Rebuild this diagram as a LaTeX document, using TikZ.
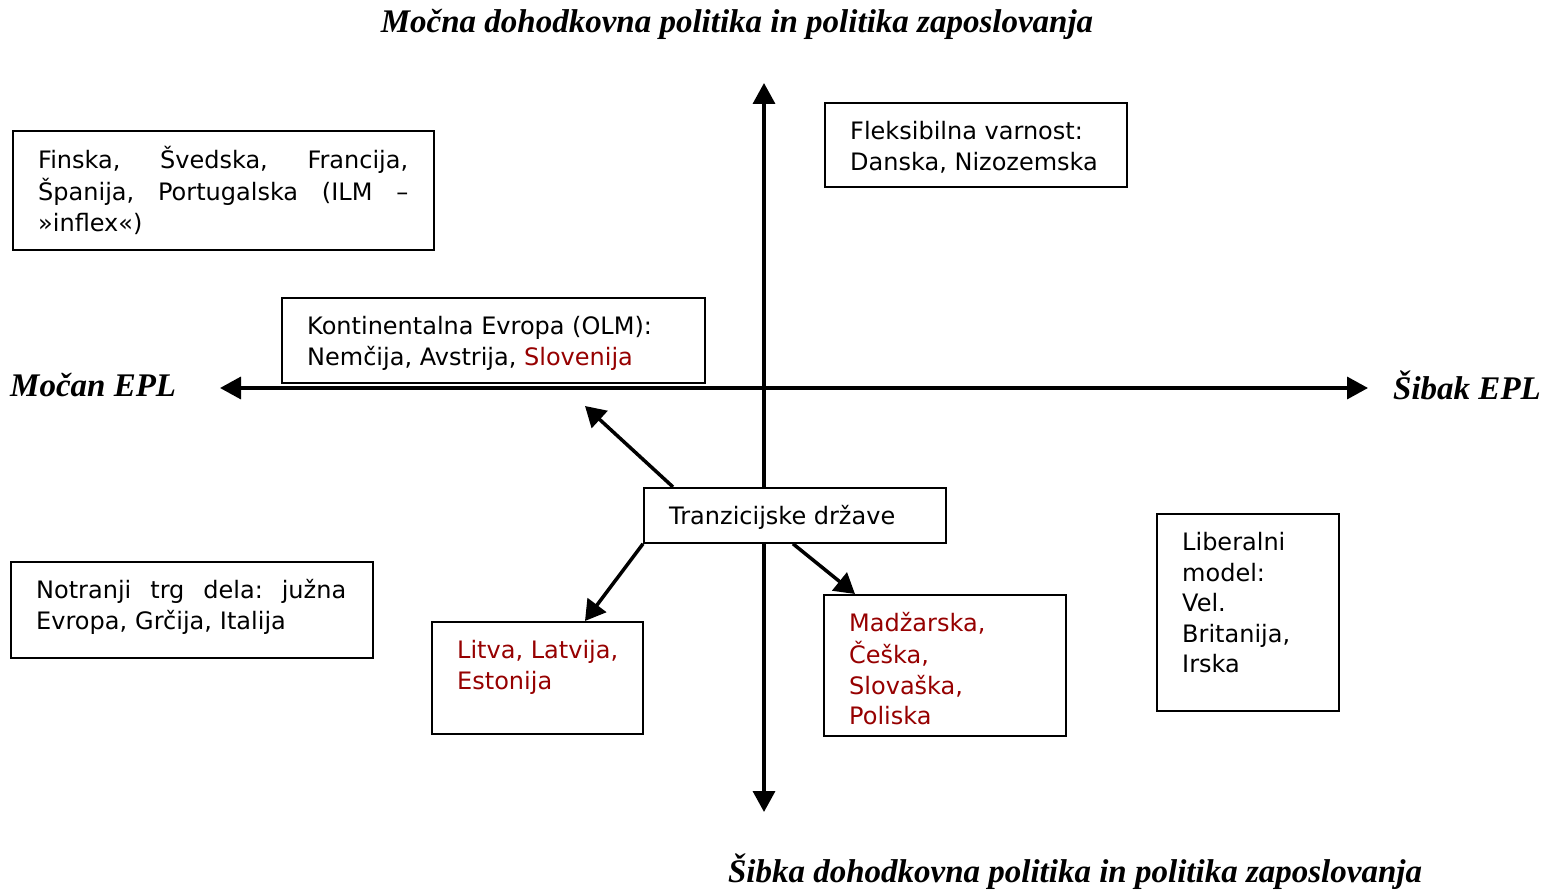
\documentclass[tikz,border=0pt]{standalone}
\usepackage{fontspec}
\setmainfont{DejaVu Sans}
\newfontfamily\headfont{Liberation Serif}
\usetikzlibrary{arrows.meta,positioning,calc}
\definecolor{darkred}{RGB}{150,0,0}

\tikzset{
  box/.style={draw,line width=1.8pt,anchor=north west,inner sep=0pt},
  txt/.style={anchor=north west,inner sep=0pt,align=left,font=\fontsize{24}{30.5}\selectfont},
  head/.style={inner sep=0pt,font=\headfont\bfseries\itshape\fontsize{33}{36}\selectfont},
  axis/.style={line width=3.5pt,{Triangle[length=21pt,width=22pt]}-{Triangle[length=21pt,width=22pt]}},
  link/.style={line width=3.5pt,-{Triangle[length=20pt,width=23pt]}}
}
\newcommand{\redt}[1]{\textcolor{darkred}{#1}}

\begin{document}
\begin{tikzpicture}[x=1pt,y=-1pt]
\useasboundingbox (0,0) rectangle (1545,890);
% axes
\coordinate (L) at (220,388);\coordinate (R) at (1368,388);
\coordinate (T) at (764,83);\coordinate (B) at (764,812);
\draw[axis] (L)--(R);
\draw[axis] (T)--(B);
% axis labels
\node[head] (top) at (737,24){Močna dohodkovna politika in politika zaposlovanja};
\node[head] (bot) at (1075,872){Šibka dohodkovna politika in politika zaposlovanja};
\node[head,anchor=west] (left) at (10,385){Močan EPL};
\node[head,anchor=east] (right) at (1541,385){Šibak EPL};
% boxes
\node[box,minimum width=421,minimum height=119] (fin) at (12,130){};
\node[txt,text width=370] (fint) at ([shift={(26,16)}]fin.north west)
  {\strut Finska,\hfill Švedska,\hfill Francija,\\Španija,\hfill Portugalska\hfill (ILM\hfill –\\»inflex«)};
\node[box,minimum width=302,minimum height=84] (fle) at (824,102){};
\node[txt] (flet) at ([shift={(26,16)}]fle.north west)
  {\strut Fleksibilna varnost:\\Danska, Nizozemska};
\node[box,minimum width=423,minimum height=85,fill=white] (kon) at (281,297){};
\node[txt] (kont) at ([shift={(26,16)}]kon.north west)
  {\strut Kontinentalna Evropa (OLM):\\Nemčija, Avstrija, \redt{Slovenija}};
\node[box,minimum width=302,minimum height=55,fill=white] (tz) at (643,487){};
\node[txt] (tzt) at ([shift={(26,16)}]tz.north west) {\strut Tranzicijske države};
\node[box,minimum width=362,minimum height=96] (not) at (10,561){};
\node[txt,text width=310] (nott) at ([shift={(26,16)}]not.north west)
  {\strut Notranji\hfill trg\hfill dela:\hfill južna\\Evropa, Grčija, Italija};
\node[box,minimum width=211,minimum height=112] (lit) at (431,621){};
\node[txt,text=darkred] (litt) at ([shift={(26,16)}]lit.north west)
  {\strut Litva, Latvija,\\Estonija};
\node[box,minimum width=242,minimum height=141] (mad) at (823,594){};
\node[txt,text=darkred] (madt) at ([shift={(26,16)}]mad.north west)
  {\strut Madžarska,\\Češka,\\Slovaška,\\Poliska};
\node[box,minimum width=182,minimum height=197] (lib) at (1156,513){};
\node[txt] (libt) at ([shift={(26,16)}]lib.north west)
  {\strut Liberalni\\model:\\Vel.\\Britanija,\\Irska};
% links
\coordinate (up) at (585,406);
\draw[link] ([xshift=30]tz.north west)--(up);
\draw[link] (tz.south west)--([xshift=154]lit.north west);
\draw[link] ([xshift=150]tz.south west)--([xshift=32]mad.north west);
\end{tikzpicture}
\end{document}
